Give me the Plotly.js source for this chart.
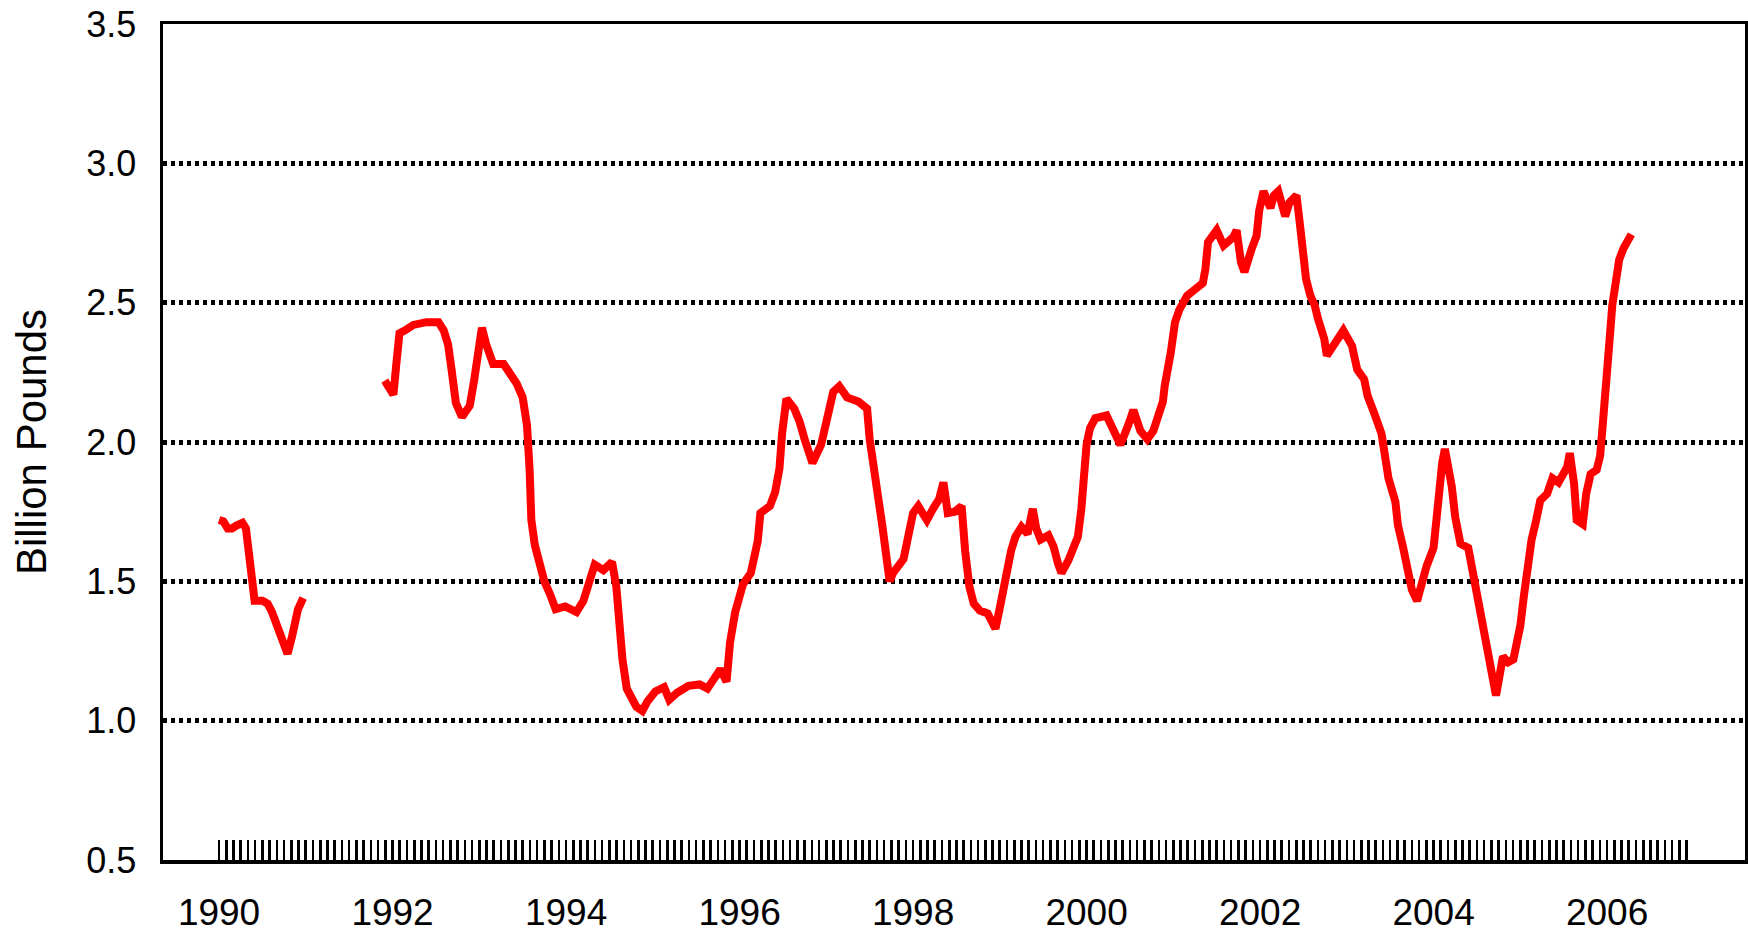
<!DOCTYPE html>
<html>
<head>
<meta charset="utf-8">
<script src="https://cdn.plot.ly/plotly-3.0.1.min.js"></script>
<style>
  html, body { margin: 0; padding: 0; background: #ffffff; }
  #chart { width: 1748px; height: 934px; }
</style>
</head>
<body>
<div id="chart"></div>
<script>
// Time in decimal years; null value = gap in the series (missing data in 1991)
const years = [
  1990.00, 1990.05, 1990.10, 1990.15, 1990.20, 1990.27, 1990.31, 1990.34, 1990.38, 1990.41,
  1990.50, 1990.56, 1990.61, 1990.66, 1990.70, 1990.75, 1990.79, 1990.84, 1990.88, 1990.91,
  1990.97,
  1991.45,
  1991.91, 1992.01, 1992.05, 1992.08, 1992.14, 1992.24, 1992.39, 1992.53, 1992.59, 1992.64,
  1992.68, 1992.73, 1992.80, 1992.89, 1992.94, 1992.99, 1993.03, 1993.08, 1993.16, 1993.28,
  1993.35, 1993.43, 1993.50, 1993.55, 1993.58, 1993.60, 1993.64, 1993.69, 1993.75, 1993.82,
  1993.88, 1993.99, 1994.12, 1994.20, 1994.26, 1994.33, 1994.43, 1994.53, 1994.58, 1994.61,
  1994.65, 1994.70, 1994.76, 1994.81, 1994.88, 1994.94, 1995.03, 1995.13, 1995.19, 1995.28,
  1995.41, 1995.54, 1995.63, 1995.71, 1995.78, 1995.85, 1995.89, 1995.95, 1995.99, 1996.04,
  1996.13, 1996.17, 1996.21, 1996.24, 1996.35, 1996.41, 1996.46, 1996.49, 1996.54, 1996.63,
  1996.69, 1996.75, 1996.84, 1996.94, 1997.01, 1997.08, 1997.15, 1997.24, 1997.37, 1997.47,
  1997.50, 1997.57, 1997.61, 1997.65, 1997.69, 1997.73, 1997.77, 1997.89, 1997.95, 1998.00,
  1998.06, 1998.16, 1998.23, 1998.30, 1998.35, 1998.40, 1998.48, 1998.56, 1998.60, 1998.65,
  1998.70, 1998.77, 1998.86, 1998.95, 1999.01, 1999.05, 1999.09, 1999.13, 1999.18, 1999.25,
  1999.32, 1999.38, 1999.42, 1999.47, 1999.56, 1999.62, 1999.67, 1999.71, 1999.79, 1999.85,
  1999.90, 1999.94, 1999.97, 2000.00, 2000.04, 2000.10, 2000.23, 2000.33, 2000.39, 2000.48,
  2000.54, 2000.62, 2000.70, 2000.77, 2000.81, 2000.88, 2000.90, 2000.93, 2000.97, 2001.02,
  2001.07, 2001.16, 2001.25, 2001.34, 2001.37, 2001.40, 2001.50, 2001.58, 2001.69, 2001.73,
  2001.78, 2001.82, 2001.90, 2001.96, 2001.99, 2002.04, 2002.12, 2002.16, 2002.21, 2002.29,
  2002.34, 2002.42, 2002.46, 2002.50, 2002.53, 2002.58, 2002.63, 2002.67, 2002.74, 2002.77,
  2002.87, 2002.96, 2003.06, 2003.12, 2003.20, 2003.24, 2003.32, 2003.40, 2003.44, 2003.48,
  2003.56, 2003.59, 2003.65, 2003.70, 2003.75, 2003.81, 2003.87, 2003.92, 2004.00, 2004.04,
  2004.10, 2004.13, 2004.17, 2004.21, 2004.25, 2004.31, 2004.40, 2004.44, 2004.48, 2004.54,
  2004.59, 2004.64, 2004.69, 2004.72, 2004.80, 2004.86, 2004.92, 2004.96, 2005.00, 2005.04,
  2005.08, 2005.11, 2005.13, 2005.18, 2005.23, 2005.31, 2005.37, 2005.44, 2005.49, 2005.54,
  2005.57, 2005.62, 2005.65, 2005.72, 2005.76, 2005.81, 2005.88, 2005.92, 2005.96, 2006.00,
  2006.03, 2006.06, 2006.11, 2006.14, 2006.19, 2006.24, 2006.28
];

// Billion pounds
const billionPounds = [
  1.72, 1.715, 1.69, 1.69, 1.70, 1.71, 1.69, 1.60, 1.50, 1.43,
  1.43, 1.42, 1.39, 1.35, 1.31, 1.27, 1.24, 1.30, 1.36, 1.40,
  1.44,
  null,
  2.22, 2.17, 2.30, 2.39, 2.40, 2.42, 2.43, 2.43, 2.40, 2.35,
  2.26, 2.14, 2.09, 2.13, 2.22, 2.35, 2.41, 2.35, 2.28, 2.28,
  2.25, 2.21, 2.16, 2.06, 1.90, 1.72, 1.63, 1.56, 1.50, 1.45,
  1.40, 1.41, 1.39, 1.43, 1.50, 1.56, 1.54, 1.57, 1.48, 1.35,
  1.22, 1.115, 1.075, 1.05, 1.035, 1.07, 1.105, 1.12, 1.075, 1.10,
  1.125, 1.13, 1.115, 1.15, 1.185, 1.14, 1.28, 1.39, 1.445, 1.49,
  1.53, 1.585, 1.645, 1.745, 1.77, 1.82, 1.905, 2.03, 2.155, 2.12,
  2.075, 2.01, 1.925, 1.99, 2.10, 2.18, 2.20, 2.16, 2.145, 2.12,
  2.01, 1.88, 1.785, 1.69, 1.595, 1.50, 1.53, 1.58, 1.67, 1.745,
  1.77, 1.72, 1.76, 1.795, 1.855, 1.745, 1.75, 1.77, 1.61, 1.48,
  1.42, 1.395, 1.385, 1.33, 1.42, 1.49, 1.56, 1.61, 1.66, 1.695,
  1.67, 1.76, 1.69, 1.65, 1.665, 1.625, 1.565, 1.53, 1.575, 1.63,
  1.66, 1.76, 1.88, 1.99, 2.05, 2.085, 2.095, 2.02, 1.99, 2.06,
  2.115, 2.04, 2.01, 2.04, 2.085, 2.145, 2.20, 2.275, 2.32, 2.43,
  2.475, 2.525, 2.55, 2.57, 2.62, 2.717, 2.76, 2.705, 2.735, 2.76,
  2.645, 2.61, 2.69, 2.74, 2.83, 2.90, 2.84, 2.885, 2.90, 2.81,
  2.86, 2.885, 2.78, 2.67, 2.585, 2.525, 2.49, 2.44, 2.37, 2.31,
  2.355, 2.40, 2.345, 2.26, 2.225, 2.165, 2.10, 2.03, 1.95, 1.87,
  1.785, 1.70, 1.62, 1.535, 1.47, 1.43, 1.50, 1.555, 1.62, 1.77,
  1.925, 1.975, 1.91, 1.84, 1.73, 1.635, 1.62, 1.555, 1.485, 1.405,
  1.31, 1.23, 1.16, 1.09, 1.23, 1.21, 1.22, 1.27, 1.34, 1.445,
  1.54, 1.61, 1.65, 1.715, 1.79, 1.815, 1.87, 1.855, 1.885, 1.91,
  1.96, 1.85, 1.72, 1.705, 1.815, 1.885, 1.90, 1.95, 2.10, 2.22,
  2.37, 2.49, 2.59, 2.655, 2.695, 2.73, 2.745
];

// Axis labels
const yearLabels = ["1990", "1992", "1994", "1996", "1998", "2000", "2002", "2004", "2006"];
const yTicks = [0.5, 1.0, 1.5, 2.0, 2.5, 3.0, 3.5];
const yTickText = ["0.5", "1.0", "1.5", "2.0", "2.5", "3.0", "3.5"];
const yTitle = "Billion Pounds";

// Monthly category tick marks from Jan 1990 through Dec 2006, labels every second year
const firstYear = 1990, lastYear = 2006;
const xTickVals = [], xTickText = [];
for (let y = firstYear; y <= lastYear; y++) {
  for (let m = 0; m < 12; m++) {
    xTickVals.push(y + m / 12);
    const lbl = String(y);
    xTickText.push(m === 0 && yearLabels.indexOf(lbl) >= 0 ? lbl : "");
  }
}

const trace = {
  x: years,
  y: billionPounds,
  type: "scatter",
  mode: "lines",
  connectgaps: false,
  line: { color: "#ff0000", width: 8 },
  hoverinfo: "x+y"
};

const font = "'Liberation Sans', Arial, sans-serif";

const layout = {
  width: 1748,
  height: 934,
  paper_bgcolor: "#ffffff",
  plot_bgcolor: "#ffffff",
  showlegend: false,
  margin: { l: 163, r: 3, t: 24, b: 74, pad: 0 },
  font: { family: font, color: "#000000", size: 36 },
  xaxis: {
    range: [1989.354, 2007.59],
    tickmode: "array",
    tickvals: xTickVals,
    ticktext: xTickText,
    ticks: "inside",
    ticklen: 20,
    tickwidth: 2.6,
    tickcolor: "#000000",
    showgrid: false,
    zeroline: false,
    showline: true,
    linecolor: "#000000",
    linewidth: 3.5,
    mirror: true,
    tickfont: { family: font, size: 37, color: "#000000" },
    ticklabelstandoff: 17
  },
  yaxis: {
    range: [0.5, 3.5],
    tickmode: "array",
    tickvals: yTicks,
    ticktext: yTickText,
    ticks: "",
    showgrid: true,
    gridcolor: "#000000",
    gridwidth: 5,
    griddash: "3.5px,4.5px",
    zeroline: false,
    showline: true,
    linecolor: "#000000",
    linewidth: 3.5,
    mirror: true,
    tickfont: { family: font, size: 36, color: "#000000" },
    ticklabelstandoff: 16,
    title: { text: yTitle, font: { family: font, size: 42, color: "#000000" }, standoff: 27 }
  }
};

Plotly.newPlot("chart", [trace], layout, { displayModeBar: false, responsive: false, staticPlot: true });
</script>
</body>
</html>
